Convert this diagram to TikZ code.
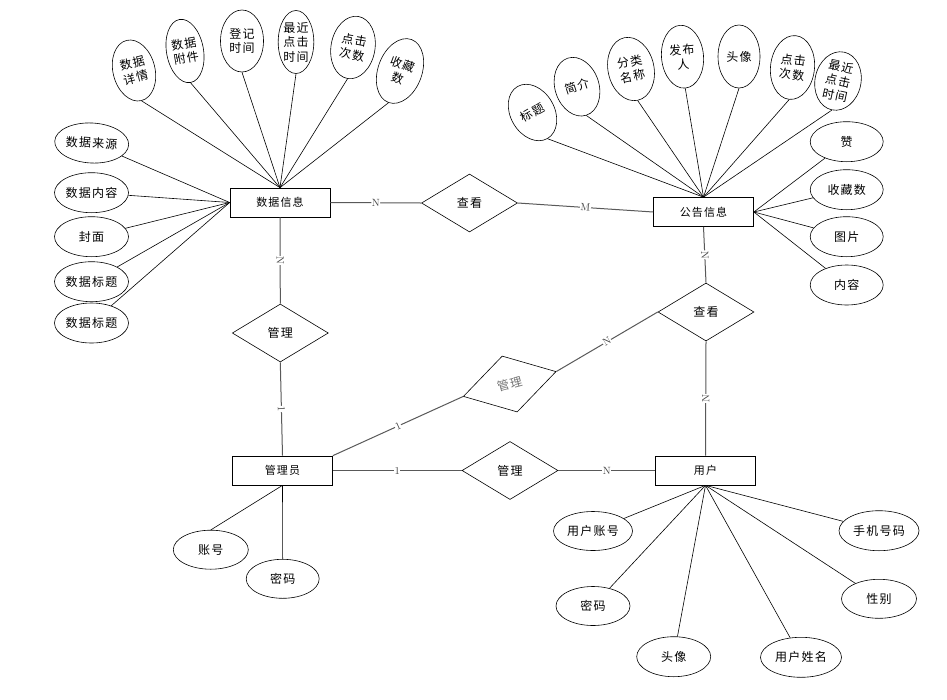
\documentclass[tikz,border=0pt]{standalone}
\usepackage{fontspec}
\newfontfamily\cjk[LetterSpace=10]{Noto Sans CJK SC}
\usetikzlibrary{shapes.geometric}

\begin{document}
\begin{tikzpicture}[x=1pt, y=-1pt,
		entity/.style={draw, line width=0.7pt, minimum width=100pt, minimum height=29pt, inner sep=0pt, font=\cjk\fontsize{11}{13}\selectfont},
		relation/.style={draw, diamond, line width=0.6pt, minimum width=96pt, minimum height=58pt, inner sep=0pt, font=\cjk\fontsize{12}{14}\selectfont},
		attr/.style={draw, ellipse, line width=0.6pt, minimum width=74pt, minimum height=40pt, inner sep=0pt, align=center, font=\cjk\fontsize{12}{14.5}\selectfont},
		tallattr/.style={attr, minimum width=#1pt, minimum height=62pt},
		link/.style={line width=0.6pt},
		rel/.style={line width=1pt, draw=black!65},
		card/.style={fill=white, inner sep=0.5pt, sloped, font=\fontsize{10.5}{11}\selectfont, text=black!75}
	]
		%%%%% START %%%%%
		\useasboundingbox[fill=white] (0,0) rectangle (947,699);
		
		% entities
		\node[entity] (sj) at (280,202.5) {数据信息};
		\node[entity] (gg) at (703.5,212) {公告信息};
		\node[entity] (gly) at (282.5,470.5) {管理员};
		\node[entity] (yh) at (705.5,470.5) {用户};
		
		% relations
		\node[relation] (ck1) at (469.5,203) {查看};
		\node[relation] (gl1) at (280.3,333) {管理};
		\node[relation] (ck2) at (706,312) {查看};
		\node[relation] (gl3) at (510,470.5) {管理};
		\node[relation, rotate=15, text=black!55] (gl2) at (509.7,384) {管理};
		
		% attributes of 数据信息
		\node[tallattr=42, rotate=14] (sjA) at (134,70.5) {数据\\详情};
		\node[tallattr=37, rotate=10, minimum height=64pt] (sjB) at (185,51) {数据\\附件};
		\node[tallattr=43] (sjC) at (242,41) {登记\\时间};
		\node[tallattr=35, minimum height=63pt] (sjD) at (296,42) {最近\\点击\\时间};
		\node[tallattr=44, rotate=-10, minimum height=63pt] (sjE) at (353,47.5) {点击\\次数};
		\node[tallattr=44, rotate=-20, minimum height=67pt] (sjF) at (400,71) {收藏\\数};
		\node[attr, rotate=-3] (sjG) at (91.7,143) {数据来源};
		\node[attr] (sjH) at (91.5,192.7) {数据内容};
		\node[attr] (sjI) at (91.5,236.7) {封面};
		\node[attr] (sjJ) at (91.5,281.7) {数据标题};
		\node[attr] (sjK) at (91.5,323) {数据标题};
		
		\foreach \a in {sjA,sjB,sjC,sjD,sjE,sjF}
			\draw[link] (sj.north) -- (\a.south);
		\foreach \a in {sjG,sjH,sjI,sjJ,sjK}
			\draw[link] (sj.west) -- (\a);
		
		% attributes of 公告信息
		\node[tallattr=44, rotate=30, minimum height=60pt] (ggA) at (532.5,112.5) {标题};
		\node[tallattr=44, rotate=18, minimum height=60pt] (ggB) at (577,86.7) {简介};
		\node[tallattr=46, rotate=12, minimum height=64pt] (ggC) at (631,69) {分类\\名称};
		\node[tallattr=42, rotate=5, minimum height=63pt] (ggD) at (682.5,56.7) {发布\\人};
		\node[tallattr=42, minimum height=63pt] (ggE) at (739,56.5) {头像};
		\node[tallattr=44, rotate=-6, minimum height=64pt] (ggF) at (792.5,67.5) {点击\\次数};
		\node[tallattr=46, rotate=-12, minimum height=59pt] (ggG) at (838,81) {最近\\点击\\时间};
		\node[attr, minimum width=73pt] (ggH) at (846.7,141.7) {赞};
		\node[attr, minimum width=73pt] (ggI) at (846.7,189.7) {收藏数};
		\node[attr, minimum width=73pt] (ggJ) at (846.7,236.7) {图片};
		\node[attr, minimum width=73pt] (ggK) at (846.7,285) {内容};
		
		\foreach \a in {ggA,ggB,ggC,ggD,ggE,ggF,ggG}
			\draw[link] (gg.north) -- (\a.south);
		\foreach \a in {ggH,ggI,ggJ,ggK}
			\draw[link] (gg.east) -- (\a);
		
		% attributes of 管理员
		\node[attr, minimum width=75pt, minimum height=39pt] (glyA) at (210.8,549.7) {账号};
		\node[attr, minimum width=73pt, minimum height=39pt] (glyB) at (282.7,578.8) {密码};
		\draw[link] (gly.south) -- (glyA.north);
		\draw[link] (gly.south) -- (glyB.north);
		
		% attributes of 用户
		\node[attr, minimum width=79pt, minimum height=39pt] (yhA) at (593,531) {用户账号};
		\node[attr, minimum width=74pt, minimum height=39pt] (yhB) at (593,606) {密码};
		\node[attr] (yhC) at (673.7,656.7) {头像};
		\node[attr, minimum width=81pt] (yhD) at (801,657.3) {用户姓名};
		\node[attr, minimum width=75pt, minimum height=39pt] (yhE) at (879,598.8) {性别};
		\node[attr, minimum width=80pt] (yhF) at (879,530.7) {手机号码};
		\foreach \a in {yhA,yhB,yhC,yhD,yhE,yhF}
			\draw[link] (yh.south) -- (\a);
		
		% relation lines
		\draw[rel] (sj.east) -- node[card] {N} (ck1.west);
		\draw[rel] (ck1.east) -- node[card] {M} (gg.west);
		\draw[rel] (sj.south) -- node[card] {N} (gl1.north);
		\draw[rel] (gl1.south) -- node[card] {1} (gly.north);
		\draw[rel] (gg.south) -- node[card] {N} (ck2.north);
		\draw[rel] (ck2.south) -- node[card] {N} (yh.north);
		\draw[rel] (ck2.west) -- node[card] {N} (gl2.east);
		\draw[rel] (gly.north east) -- node[card] {1} (gl2.west);
		\draw[rel] (gly.east) -- node[card] {1} (gl3.west);
		\draw[rel] (gl3.east) -- node[card] {N} (yh.west);
		%%%%% END %%%%%
	\end{tikzpicture}
\end{document}
